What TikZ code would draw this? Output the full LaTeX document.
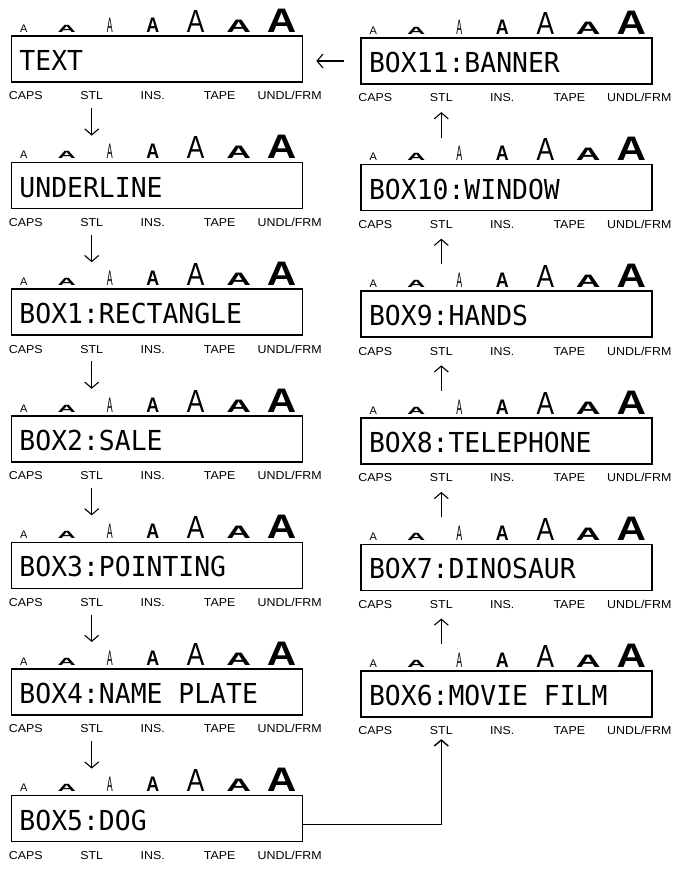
\documentclass[tikz,border=0pt]{standalone}
\usepackage{fontspec}
\usepackage{graphicx}
\usetikzlibrary{
  arrows.meta,
  positioning
}
\newfontfamily\lcdfont{DejaVu Sans Mono}[FakeStretch=0.96]
\newfontfamily\keyfont{Liberation Sans}[FakeStretch=1.08]
\newfontfamily\glyphfont{Liberation Sans}
\newcommand\gap{\phantom{X}}
\tikzset{
  lcd/.style = {
    rectangle, draw, line width=1.6pt,
    minimum width=291pt, minimum height=46pt,
    text width=275pt, inner xsep=8pt, inner ysep=2pt,
    text height=23pt, text depth=0pt,
    align=left, font=\lcdfont\fontsize{27.5}{28}\selectfont
  },
  key/.style   = {anchor=base, inner sep=0pt,
                  font=\keyfont\fontsize{11.5}{12}\selectfont},
  glyph/.style = {anchor=base, inner sep=0pt, font=\glyphfont},
  flow/.style  = {-{Straight Barb[length=6pt, width=14pt]}, line width=1.1pt},
  link/.style  = {line width=1.4pt},
}

\begin{document}
\begin{tikzpicture}[x=1pt, y=-1pt]
  \useasboundingbox (0,0) rectangle (678,872);

  %% left column
  \node[lcd] (txt) at (157,59) {TEXT};
  \node[lcd, below=79pt of txt] (und) {UNDERLINE};
  \node[lcd, below=79pt of und] (bx1) {BOX1:RECTANGLE};
  \node[lcd, below=79pt of bx1] (bx2) {BOX2:SALE};
  \node[lcd, below=79pt of bx2] (bx3) {BOX3:POINTING};
  \node[lcd, below=79pt of bx3] (bx4) {BOX4:NAME\gap PLATE};
  \node[lcd, below=79pt of bx4] (bx5) {BOX5:DOG};

  %% right column
  \node[lcd, right=57pt of txt, yshift=-2pt] (bx11) {BOX11:BANNER};
  \node[lcd, below=79pt of bx11] (bx10) {BOX10:WINDOW};
  \node[lcd, below=79pt of bx10] (bx9)  {BOX9:HANDS};
  \node[lcd, below=79pt of bx9]  (bx8)  {BOX8:TELEPHONE};
  \node[lcd, below=79pt of bx8]  (bx7)  {BOX7:DINOSAUR};
  \node[lcd, below=79pt of bx7]  (bx6)  {BOX6:MOVIE\gap FILM};

  %% size marks above and keys below every panel
  \foreach \p in {txt,und,bx1,bx2,bx3,bx4,bx5,bx6,bx7,bx8,bx9,bx10,bx11} {
    \foreach \i/\x/\g in {
        1/13/{\fontsize{11}{11}\selectfont A},
        2/56/{\bfseries\fontsize{11}{11}\selectfont\scalebox{2.3}[0.95]{A}},
        3/99/{\fontsize{21}{21}\selectfont\scalebox{0.42}[1]{A}},
        4/142/{\bfseries\fontsize{21}{21}\selectfont\scalebox{0.85}[1]{A}},
        5/185/{\fontsize{32}{32}\selectfont\scalebox{0.82}[1]{A}},
        6/228/{\bfseries\fontsize{18}{18}\selectfont\scalebox{1.9}[1]{A}},
        7/271/{\bfseries\fontsize{34}{34}\selectfont\scalebox{1.2}[1]{A}}}
      \node[glyph] (\p-a\i) at ([xshift=\x pt, yshift=3pt]\p.north west) {\g};
    \foreach \k/\x/\lab in {caps/15/CAPS, stl/81/STL, ins/142/INS.,
                            tape/209/TAPE, undl/279/{UNDL/FRM}}
      \node[key] (\p-\k) at ([xshift=\x pt, yshift=-17pt]\p.south west) {\lab};
  }

  %% down the left column
  \foreach \a/\b in {txt/und, und/bx1, bx1/bx2, bx2/bx3, bx3/bx4, bx4/bx5}
    \draw[flow, shorten <=8pt, shorten >=1pt]
      (\a-stl.south) -- (\a-stl.south |- \b-a5.north);

  %% across the bottom and up the right column
  \draw[link, -{Straight Barb[length=6pt, width=14pt]}, shorten >=4pt]
    ([yshift=-6pt]bx5.east) -| (bx6-stl.south);
  \foreach \a/\b in {bx6/bx7, bx7/bx8, bx8/bx9, bx9/bx10, bx10/bx11}
    \draw[flow, shorten <=1pt, shorten >=10pt]
      (\b-stl.south |- \a-a5.north) -- (\b-stl.south);

  %% back to the start
  \draw[flow, shorten <=16pt, shorten >=13pt]
    (bx11.west) -- (bx11.west -| txt.east);

\end{tikzpicture}
\end{document}
